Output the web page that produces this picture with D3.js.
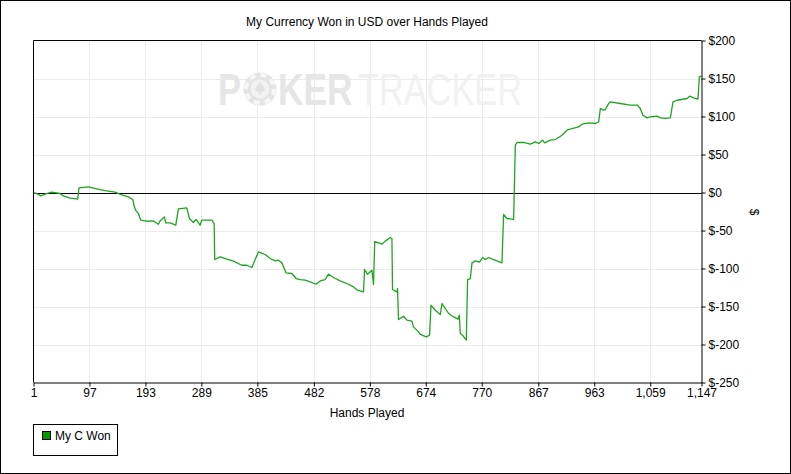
<!DOCTYPE html>
<html><head><meta charset="utf-8">
<script src="https://cdn.jsdelivr.net/npm/d3@7"></script>
<style>body{margin:0;background:#fff}svg{display:block}text{font-family:"Liberation Sans",Arial,sans-serif}</style>
</head><body><svg id="c" width="791" height="474"></svg>
<script>
const title = "My Currency Won in USD over Hands Played";
const xTitle = "Hands Played";
const yTitle = "$";
const seriesName = "My C Won";
const xTicks = [1,97,193,289,385,482,578,674,770,867,963,1059,1147];
const yTicks = [-250,-200,-150,-100,-50,0,50,100,150,200];
const hands = [1,6.5,13.9,20.7,32.2,46.5,52.2,63.7,76.9,79.1,95.1,115.2,123.7,140.9,152.4,163.7,171.3,174,177,180.9,185,195.3,206.7,215.2,218.2,225.5,227.9,235.3,245.1,249.6,264,268.5,275.3,280,286.8,289.7,306.9,310.9,311.9,321.2,332.7,344,358.4,367,375.6,379.5,386.9,398.4,407,415.6,421.2,427.1,434.5,444.2,451.6,458.5,467.1,475.6,485.9,492.8,501.4,507.1,515.7,527.1,541.4,550,556.9,567.2,568.9,574,581.6,584.3,586.4,592.9,598.8,604.4,613,615.9,616.9,624.5,625.5,627.2,635.8,641.7,650.2,653,661.6,664.5,674.8,680.5,682.9,690.3,698.9,701.8,713.2,721.7,729.3,731.5,733.2,737.1,743.5,745.7,750.4,753.3,759,766.3,771.5,776.1,781.7,790.3,804.7,807.5,813.3,824.7,827.6,830.5,841.8,853.3,861.9,867.6,874.5,877.9,887.7,896.3,907.8,916.3,924.9,936.3,942.1,953.5,964.9,970.6,973.5,979.2,982,988,990.4,1007.5,1024.7,1037.2,1041.9,1046.6,1053.4,1059.1,1070.6,1076.3,1084.9,1093.5,1098.1,1105,1122.2,1126.6,1133.5,1141,1143.3,1147];
const won = [-0.5,-1.3,-4.5,-2.2,0.4,-1.3,-4.5,-7.5,-8.8,6.1,7.4,3.9,2.6,0.4,-3.2,-5.8,-9.2,-18.9,-24.2,-27.6,-36.4,-37.8,-37.4,-41.7,-37.4,-32.1,-40,-40,-43,-21.6,-20.3,-34.2,-39.5,-35.5,-43,-36.4,-36.4,-40.8,-88.2,-84.7,-87.8,-90.4,-95.7,-95.7,-98.7,-91.3,-78.2,-81.6,-86.8,-90,-89.1,-92.6,-105.8,-106.6,-113.2,-114.5,-115.4,-117.6,-120.7,-116.3,-114.5,-107.5,-111.8,-116.3,-120.7,-124.2,-128.6,-130.8,-101.3,-107.5,-102.2,-121.1,-64.5,-66.3,-68,-64,-59.2,-60.5,-127.6,-130.8,-126.3,-167.1,-162.8,-168,-169.3,-176.8,-183.4,-186.8,-190,-187.8,-148.3,-154.9,-160.5,-146.1,-159.2,-163.7,-166.7,-161.4,-185.5,-187.8,-194.3,-114.5,-113.2,-92.6,-90,-91.7,-85.5,-88.2,-85.5,-88.2,-92.6,-28.9,-34.2,-35.5,62.2,65.8,65.8,63.6,66.6,64.5,68.8,65.3,68.8,69.7,75.4,82,84.2,86.3,89.9,91.6,90.8,92.9,110.5,108.3,109,117.5,119.2,117.1,114.9,114.9,110.5,101.7,98.2,99.5,100.4,98.2,97.4,98.2,119.2,121.4,123.7,126.7,124.5,122.8,152.1,153];

const svg = d3.select("#c");
const L = 33.5, R = 701.5, T = 40.5, B = 382.5;
const x = d3.scaleLinear().domain([1,1147]).range([L,R]);
const y = d3.scaleLinear().domain([-250,200]).range([B,T]);

svg.append("rect").attr("x",0.5).attr("y",0.5).attr("width",790).attr("height",473).attr("fill","#fff").attr("stroke","#000");

// grid
const g = svg.append("g");
g.selectAll(".vg").data(xTicks.slice(1,-1)).join("line")
  .attr("x1",d=>Math.round(x(d))+0.5).attr("x2",d=>Math.round(x(d))+0.5).attr("y1",T).attr("y2",B)
  .attr("stroke","#ebebeb");
g.selectAll(".hg").data(yTicks.filter(v=>v!==0 && v!==200 && v!==-250)).join("line")
  .attr("y1",d=>Math.round(y(d))+0.5).attr("y2",d=>Math.round(y(d))+0.5).attr("x1",L).attr("x2",R)
  .attr("stroke","#ebebeb");

// watermark
const wm = svg.append("g");
wm.append("circle").attr("cx",260).attr("cy",89).attr("r",16.5).attr("fill","#e4e4e4");
wm.append("circle").attr("cx",260).attr("cy",89).attr("r",14).attr("fill","none").attr("stroke","#f7f7f7").attr("stroke-width",4).attr("stroke-dasharray","6 5");
wm.append("circle").attr("cx",260).attr("cy",89).attr("r",9.5).attr("fill","#f2f2f2");
wm.append("path").attr("transform","translate(260,88)").attr("fill","#e0e0e0")
  .attr("d","M0,-6 C3,-2 6,0 4,3 C2.5,4.5 1,4 0.6,2.5 L1.5,6 L-1.5,6 L-0.6,2.5 C-1,4 -2.5,4.5 -4,3 C-6,0 -3,-2 0,-6Z");
wm.append("text").attr("transform","translate(218,105) scale(0.785,1)").attr("font-size",44).attr("font-weight","bold").attr("fill","#e6e6e6").text("P");
wm.append("text").attr("transform","translate(278,105) scale(0.80,1)").attr("font-size",44).attr("font-weight","bold").attr("fill","#e6e6e6").text("KER");
wm.append("text").attr("transform","translate(358,105) scale(0.78,1)").attr("font-size",44).attr("fill","#f1f1f1").text("TRACKER");

// zero line
svg.append("line").attr("x1",L).attr("x2",R).attr("y1",Math.round(y(0))+0.5).attr("y2",Math.round(y(0))+0.5).attr("stroke","#000");

// series
const pts = hands.map((h,i)=>[h,won[i]]);
svg.append("path").datum(pts).attr("fill","none").attr("stroke","#1ea51e").attr("stroke-width",1.3)
  .attr("stroke-linejoin","round")
  .attr("d", d3.line().x(d=>x(d[0])).y(d=>y(d[1])));

// frame top & left
svg.append("line").attr("x1",L).attr("x2",R).attr("y1",T).attr("y2",T).attr("stroke","#000");
svg.append("line").attr("x1",L).attr("x2",L).attr("y1",T).attr("y2",B).attr("stroke","#000");

// axes
const xa = svg.append("g").attr("transform",`translate(0,${B})`)
  .call(d3.axisBottom(x).tickValues(xTicks).tickFormat(d3.format(",")).tickSize(4).tickSizeOuter(0));
const ya = svg.append("g").attr("transform",`translate(${R},0)`)
  .call(d3.axisRight(y).tickValues(yTicks).tickFormat(d=>"$"+d).tickSize(4).tickSizeOuter(0));
[xa,ya].forEach(a=>{
  a.select(".domain").attr("stroke","#000");
  a.selectAll(".tick line").attr("stroke","#000");
  a.selectAll("text").attr("fill","#000").attr("font-size",12).attr("font-family","\"Liberation Sans\",Arial,sans-serif");
});
xa.selectAll("text").attr("dy","0.71em").attr("y",6);
ya.selectAll("text").attr("x",7);

svg.append("text").attr("x",367).attr("y",26).attr("text-anchor","middle").attr("font-size",12).text(title);
svg.append("text").attr("x",367).attr("y",417).attr("text-anchor","middle").attr("font-size",12).text(xTitle);
svg.append("text").attr("transform","translate(750,212) rotate(90)").attr("text-anchor","middle").attr("font-size",12).text(yTitle);

// legend
const lg = svg.append("g");
lg.append("rect").attr("x",33.5).attr("y",424.5).attr("width",84).attr("height",31).attr("fill","#fff").attr("stroke","#000");
lg.append("rect").attr("x",42.5).attr("y",431.5).attr("width",8).attr("height",8).attr("fill","#009900").attr("stroke","#000");
lg.append("text").attr("x",55).attr("y",440).attr("font-size",12).text(seriesName);
</script></body></html>
